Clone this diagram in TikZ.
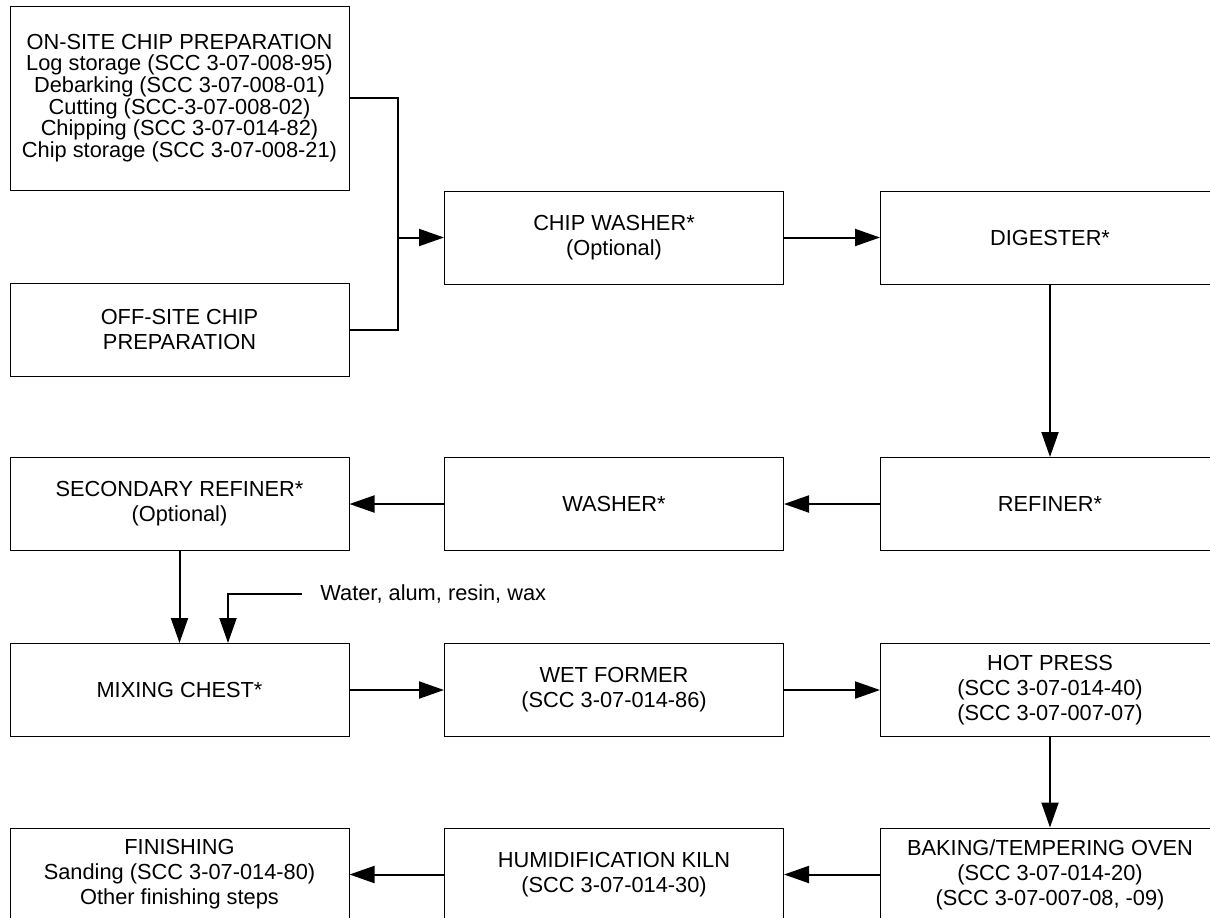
\documentclass[tikz,border=0pt]{standalone}
\usepackage{fontspec}
\setmainfont{Liberation Sans}
\usetikzlibrary{arrows.meta}

\tikzset{
  procbox/.style={draw, line width=0.5pt, minimum width=169.5pt, minimum height=46.5pt,
    align=center, inner sep=0pt, font=\fontsize{10.9}{12.5}\selectfont},
  flow/.style={line width=1pt, -{Triangle[length=12.5pt,width=8.5pt]}},
  link/.style={line width=1pt}
}

\begin{document}
\begin{tikzpicture}[x=0.5pt,y=-0.5pt]
        \useasboundingbox (0,0) rectangle (1210,917);

        % chip preparation
        \node[procbox, minimum height=92pt, font=\fontsize{10.9}{10.85}\selectfont] (onsite) at (179.5,98)
            {ON-SITE CHIP PREPARATION\\Log storage (SCC 3-07-008-95)\\Debarking (SCC 3-07-008-01)\\Cutting (SCC-3-07-008-02)\\Chipping (SCC 3-07-014-82)\\Chip storage (SCC 3-07-008-21)};
        \node[procbox] (offsite) at (179.5,329.5) {OFF-SITE CHIP\\PREPARATION};
        \node[procbox] (chipwasher) at (614,237.5) {CHIP WASHER*\\(Optional)};
        \node[procbox] (digester) at (1050,237.5) {DIGESTER*};

        % refining
        \node[procbox] (secref) at (179.5,504) {SECONDARY REFINER*\\(Optional)};
        \node[procbox] (washer) at (614,504) {WASHER*};
        \node[procbox] (refiner) at (1050,504) {REFINER*};

        % forming and pressing
        \node[procbox] (mixing) at (179.5,690) {MIXING CHEST*};
        \node[procbox] (wetformer) at (614,690) {WET FORMER\\(SCC 3-07-014-86)};
        \node[procbox] (hotpress) at (1050,690) {HOT PRESS\\(SCC 3-07-014-40)\\(SCC 3-07-007-07)};

        % finishing
        \node[procbox] (finishing) at (179.5,874.5) {FINISHING\\Sanding (SCC 3-07-014-80)\\Other finishing steps};
        \node[procbox] (humid) at (614,874.5) {HUMIDIFICATION KILN\\(SCC 3-07-014-30)};
        \node[procbox] (baking) at (1050,874.5) {BAKING/TEMPERING OVEN\\(SCC 3-07-014-20)\\(SCC 3-07-007-08, -09)};

        \node[anchor=west, inner sep=0pt, font=\fontsize{10.9}{12.5}\selectfont] (additives) at (320,594) {Water, alum, resin, wax};

        % connectors
        \coordinate (joint) at (398,237.5);
        \draw[link] (onsite.east) -| (joint);
        \draw[link] (offsite.east) -| (joint);
        \draw[flow] (joint) -- (chipwasher);
        \draw[flow] (chipwasher) -- (digester);
        \draw[flow] (digester) -- (refiner);
        \draw[flow] (refiner) -- (washer);
        \draw[flow] (washer) -- (secref);
        \draw[flow] (secref) -- (mixing);
        \draw[flow] ([xshift=-9pt]additives.west) -| ([xshift=24.25pt]mixing.north);
        \draw[flow] (mixing) -- (wetformer);
        \draw[flow] (wetformer) -- (hotpress);
        \draw[flow] (hotpress) -- (baking);
        \draw[flow] (baking) -- (humid);
        \draw[flow] (humid) -- (finishing);
\end{tikzpicture}
\end{document}
